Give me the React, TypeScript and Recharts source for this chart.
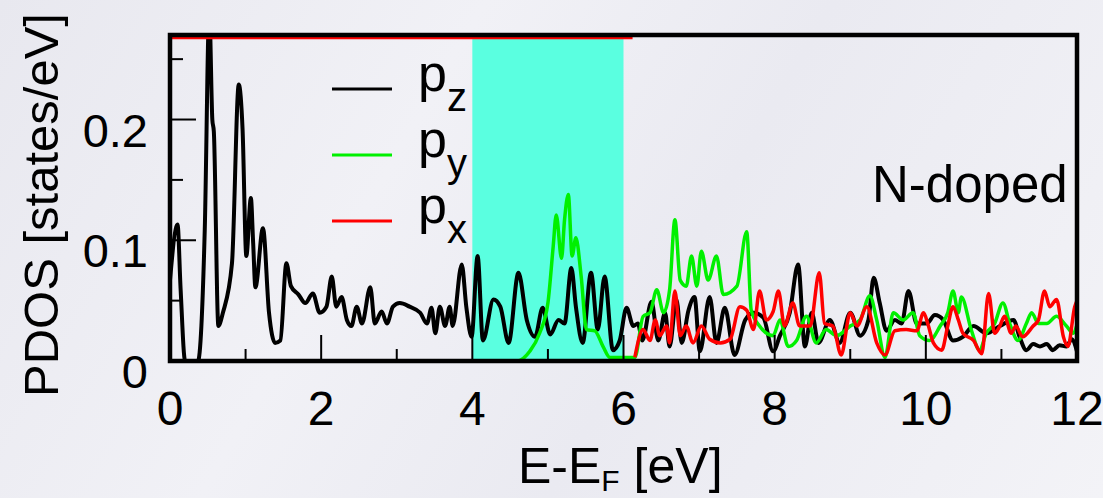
import React from 'react';
import { LineChart, Line, XAxis, YAxis, ReferenceArea } from 'recharts';

const W = 1103;
const H = 498;
const PLOT_LEFT = 170;
const PLOT_RIGHT = 1077;
const PLOT_TOP = 35;
const PLOT_BOTTOM = 361;
const FONT = "'Liberation Sans', Arial, Helvetica, sans-serif";

// axis ticks
const xTicks = [0, 1, 2, 3, 4, 5, 6, 7, 8, 9, 10, 11, 12];
const xLabels = [0, 2, 4, 6, 8, 10, 12];
const yTicks = [0, 0.05, 0.1, 0.15, 0.2, 0.25];
const yLabels = [0, 0.1, 0.2];
const yMax = 0.27;

// shaded gap region (eV)
const gapFrom = 4;
const gapTo = 6;

// p_z
const pzE = [0, 0.1, 0.14, 0.2, 0.37, 0.46, 0.52, 0.56, 0.58, 0.64, 0.7, 0.82, 0.91, 0.96, 1.01, 1.07, 1.1, 1.13, 1.23, 1.31, 1.39, 1.46, 1.54, 1.6, 1.7, 1.79, 1.89, 1.98, 2.07, 2.14, 2.2, 2.27, 2.34, 2.4, 2.47, 2.54, 2.65, 2.71, 2.8, 2.87, 2.95, 3.04, 3.17, 3.31, 3.4, 3.46, 3.51, 3.57, 3.64, 3.7, 3.74, 3.86, 3.92, 3.99, 4.07, 4.14, 4.28, 4.37, 4.48, 4.61, 4.72, 4.83, 4.93, 5.03, 5.14, 5.22, 5.31, 5.37, 5.46, 5.57, 5.66, 5.75, 5.86, 5.95, 6.04, 6.13, 6.19, 6.25, 6.37, 6.46, 6.55, 6.61, 6.7, 6.77, 6.86, 6.94, 7.01, 7.14, 7.23, 7.34, 7.47, 7.61, 7.72, 7.85, 7.98, 8.07, 8.2, 8.31, 8.4, 8.49, 8.58, 8.73, 8.86, 9.0, 9.13, 9.24, 9.31, 9.39, 9.48, 9.59, 9.68, 9.77, 9.88, 10.01, 10.12, 10.23, 10.36, 10.49, 10.63, 10.8, 10.98, 11.16, 11.24, 11.33, 11.42, 11.51, 11.6, 11.68, 11.77, 11.86, 11.93, 12.0];
const pzV = [0.067, 0.113, 0.06, 0.0, 0.0, 0.109, 0.29, 0.2, 0.19, 0.029, 0.04, 0.081, 0.229, 0.192, 0.087, 0.135, 0.098, 0.061, 0.11, 0.04, 0.015, 0.017, 0.081, 0.062, 0.055, 0.048, 0.056, 0.04, 0.045, 0.07, 0.045, 0.053, 0.034, 0.029, 0.045, 0.031, 0.061, 0.031, 0.041, 0.031, 0.045, 0.048, 0.045, 0.04, 0.031, 0.044, 0.023, 0.045, 0.029, 0.045, 0.029, 0.08, 0.045, 0.02, 0.087, 0.017, 0.051, 0.045, 0.015, 0.073, 0.034, 0.02, 0.044, 0.022, 0.034, 0.031, 0.077, 0.045, 0.015, 0.073, 0.026, 0.07, 0.009, 0.017, 0.044, 0.029, 0.031, 0.017, 0.049, 0.017, 0.04, 0.012, 0.051, 0.015, 0.042, 0.053, 0.008, 0.053, 0.015, 0.044, 0.005, 0.034, 0.04, 0.036, 0.008, 0.021, 0.04, 0.08, 0.012, 0.04, 0.015, 0.034, 0.015, 0.04, 0.021, 0.034, 0.069, 0.048, 0.025, 0.034, 0.031, 0.058, 0.031, 0.031, 0.038, 0.034, 0.017, 0.02, 0.029, 0.023, 0.029, 0.034, 0.02, 0.009, 0.014, 0.012, 0.014, 0.009, 0.013, 0.012, 0.018, 0.008];

// p_y
const pyE = [4.3, 4.59, 4.76, 4.89, 5.0, 5.07, 5.11, 5.18, 5.22, 5.27, 5.32, 5.37, 5.44, 5.51, 5.62, 5.73, 5.82, 5.99, 6.15, 6.26, 6.35, 6.44, 6.53, 6.61, 6.68, 6.75, 6.83, 6.9, 6.97, 7.03, 7.12, 7.23, 7.32, 7.5, 7.63, 7.69, 7.8, 7.98, 8.07, 8.18, 8.29, 8.42, 8.55, 8.68, 8.82, 9.0, 9.13, 9.26, 9.35, 9.46, 9.57, 9.7, 9.83, 9.92, 10.05, 10.19, 10.29, 10.36, 10.43, 10.47, 10.6, 10.71, 10.8, 10.91, 11.02, 11.11, 11.22, 11.33, 11.4, 11.49, 11.6, 11.73, 11.86, 11.95, 12.0];
const pyV = [0.0, 0.0, 0.008, 0.023, 0.048, 0.095, 0.121, 0.085, 0.117, 0.138, 0.087, 0.102, 0.07, 0.026, 0.025, 0.012, 0.003, 0.003, 0.003, 0.037, 0.04, 0.059, 0.04, 0.059, 0.117, 0.067, 0.062, 0.087, 0.062, 0.091, 0.067, 0.087, 0.055, 0.062, 0.107, 0.042, 0.029, 0.021, 0.034, 0.012, 0.017, 0.037, 0.015, 0.026, 0.021, 0.029, 0.034, 0.054, 0.034, 0.003, 0.04, 0.034, 0.04, 0.021, 0.017, 0.029, 0.04, 0.058, 0.04, 0.053, 0.026, 0.009, 0.023, 0.031, 0.048, 0.031, 0.017, 0.031, 0.04, 0.031, 0.031, 0.037, 0.029, 0.023, 0.03];

// p_x (off the scale below ~6.1 eV)
const pxE = [0, 6.12, 6.13, 6.15, 6.26, 6.35, 6.42, 6.48, 6.57, 6.61, 6.68, 6.75, 6.83, 6.92, 7.03, 7.14, 7.28, 7.41, 7.54, 7.63, 7.72, 7.8, 7.89, 7.98, 8.05, 8.13, 8.24, 8.33, 8.47, 8.59, 8.66, 8.77, 8.88, 9.0, 9.09, 9.22, 9.35, 9.46, 9.59, 9.74, 9.88, 9.97, 10.03, 10.1, 10.21, 10.29, 10.36, 10.43, 10.49, 10.63, 10.74, 10.83, 10.91, 10.98, 11.04, 11.13, 11.19, 11.28, 11.42, 11.49, 11.57, 11.64, 11.73, 11.82, 11.88, 11.97, 12.0];
const pxV = [0.268, 0.268, null, 0.003, 0.026, 0.017, 0.034, 0.021, 0.029, 0.015, 0.058, 0.021, 0.029, 0.015, 0.029, 0.018, 0.015, 0.018, 0.045, 0.042, 0.026, 0.058, 0.034, 0.041, 0.058, 0.029, 0.048, 0.029, 0.029, 0.073, 0.031, 0.029, 0.005, 0.04, 0.029, 0.045, 0.015, 0.005, 0.025, 0.026, 0.025, 0.04, 0.03, 0.015, 0.009, 0.029, 0.045, 0.034, 0.023, 0.017, 0.006, 0.056, 0.023, 0.029, 0.037, 0.023, 0.029, 0.02, 0.029, 0.034, 0.058, 0.045, 0.051, 0.02, 0.012, 0.045, 0.05];

const toPoints = (es: number[], vs: (number | null)[]) => es.map((e, i) => ({ e, v: vs[i] }));

const series = [
  { key: 'pz', sub: 'z', color: '#000000', width: 4, data: toPoints(pzE, pzV) },
  { key: 'py', sub: 'y', color: '#00f000', width: 3.5, data: toPoints(pyE, pyV) },
  { key: 'px', sub: 'x', color: '#ff0000', width: 3.5, data: toPoints(pxE, pxV) },
];

const BottomTick = (props: any) => {
  const { x, payload } = props;
  const v = payload.value;
  const major = xLabels.includes(v);
  return (
    <g>
      <line x1={x} x2={x} y1={PLOT_BOTTOM} y2={PLOT_BOTTOM - (major ? 26 : 12)} stroke="#000" strokeWidth={2} />
      {major && (
        <text x={x} y={425} textAnchor="middle" fontSize={48} fontFamily={FONT} fill="#000">
          {v}
        </text>
      )}
    </g>
  );
};

const TopTick = (props: any) => {
  const { x, payload } = props;
  const major = xLabels.includes(payload.value);
  return <line x1={x} x2={x} y1={PLOT_TOP} y2={PLOT_TOP + (major ? 26 : 12)} stroke="#000" strokeWidth={2} />;
};

const LeftTick = (props: any) => {
  const { y, payload } = props;
  const v = payload.value;
  const major = yLabels.some((l) => Math.abs(l - v) < 1e-9);
  return (
    <g>
      <line x1={PLOT_LEFT} x2={PLOT_LEFT + (major ? 26 : 13)} y1={y} y2={y} stroke="#000" strokeWidth={2} />
      {major && (
        <text x={148} y={y + 27} textAnchor="end" fontSize={47} fontFamily={FONT} fill="#000">
          {v}
        </text>
      )}
    </g>
  );
};

const YTitle = () => (
  <text transform="translate(58,205) rotate(-90)" textAnchor="middle" fontSize={49} fontFamily={FONT} fill="#000">
    PDOS [states/eV]
  </text>
);

const XTitle = () => (
  <text x={518} y={483} fontSize={50} fontFamily={FONT} fill="#000">
    E-E
    <tspan dy={8} fontSize={30}>F</tspan>
    <tspan dy={-8} fontSize={50}> [eV]</tspan>
  </text>
);

export default function App() {
  return (
    <div
      style={{
        position: 'absolute',
        left: 0,
        top: 0,
        width: W,
        height: H,
        background: 'linear-gradient(120deg, #e8e8ef 0%, #f1f1f6 35%, #eaeaf1 60%, #f3f3f7 100%)',
      }}
    >
      <LineChart width={W} height={H} margin={{ top: PLOT_TOP, right: W - PLOT_RIGHT, bottom: 0, left: 0 }}>
        <XAxis
          type="number"
          dataKey="e"
          domain={[0, 12]}
          ticks={xTicks}
          interval={0}
          height={H - PLOT_BOTTOM}
          allowDataOverflow
          axisLine={false}
          tickLine={false}
          tick={<BottomTick />}
          label={<XTitle />}
        />
        <XAxis
          xAxisId="top"
          orientation="top"
          type="number"
          domain={[0, 12]}
          ticks={xTicks}
          interval={0}
          height={0}
          allowDataOverflow
          axisLine={false}
          tickLine={false}
          tick={<TopTick />}
        />
        <YAxis
          type="number"
          domain={[0, yMax]}
          ticks={yTicks}
          interval={0}
          width={PLOT_LEFT}
          allowDataOverflow
          axisLine={false}
          tickLine={false}
          tick={<LeftTick />}
          label={<YTitle />}
        />
        <ReferenceArea x1={gapFrom} x2={gapTo} fill="#5affe0" fillOpacity={1} stroke="none" />
        {series.map((s) => (
          <Line
            key={s.key}
            data={s.data}
            dataKey="v"
            type="monotone"
            stroke={s.color}
            strokeWidth={s.width}
            dot={false}
            activeDot={false}
            isAnimationActive={false}
          />
        ))}
      </LineChart>
      <svg width={W} height={H} style={{ position: 'absolute', left: 0, top: 0, pointerEvents: 'none' }}>
        <rect
          x={PLOT_LEFT}
          y={PLOT_TOP}
          width={PLOT_RIGHT - PLOT_LEFT}
          height={PLOT_BOTTOM - PLOT_TOP}
          fill="none"
          stroke="#000"
          strokeWidth={4.5}
        />
        {series.map((s, i) => (
          <g key={s.key}>
            <line x1={332} x2={392} y1={89 + i * 66} y2={89 + i * 66} stroke={s.color} strokeWidth={3} />
            <text x={418} y={91 + i * 66} fontSize={52} fontFamily={FONT} fill="#000">
              p<tspan dy={20} fontSize={40}>{s.sub}</tspan>
            </text>
          </g>
        ))}
        <text x={872} y={202} fontSize={51} fontFamily={FONT} fill="#000">
          N-doped
        </text>
      </svg>
    </div>
  );
}
